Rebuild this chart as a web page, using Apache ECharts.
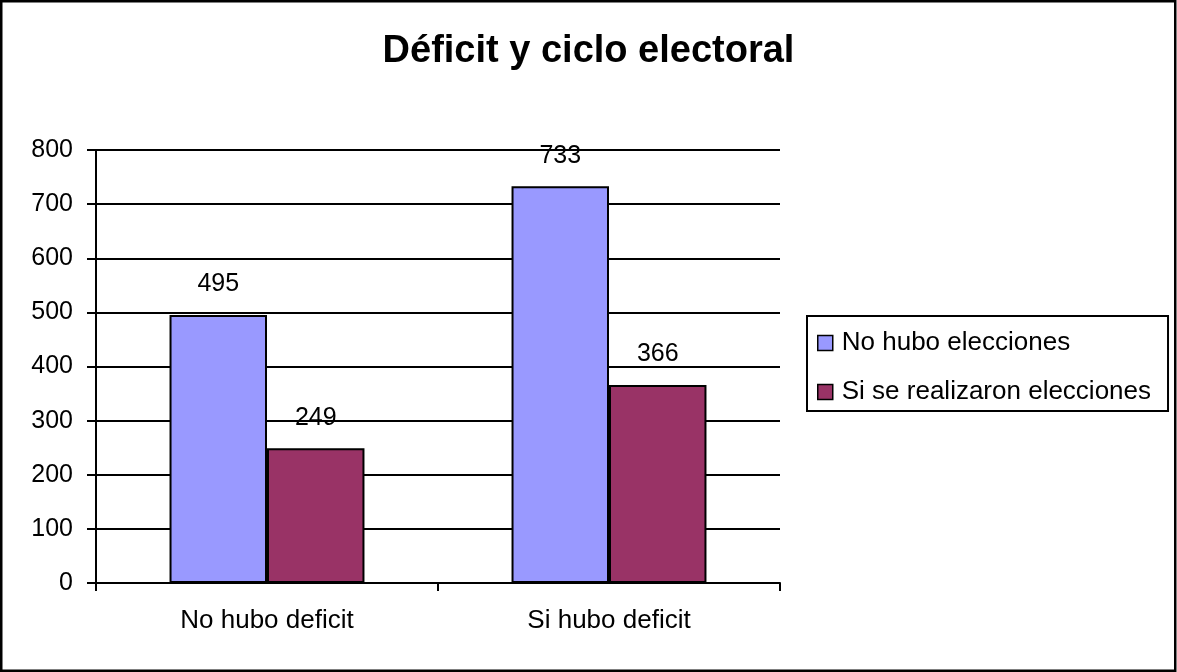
<!DOCTYPE html>
<html>
<head>
<meta charset="utf-8">
<script src="https://cdn.jsdelivr.net/npm/echarts@6/dist/echarts.min.js"></script>
<style>
html,body{margin:0;padding:0;background:#fff;}
#chart{width:1177px;height:672px;}
</style>
</head>
<body>
<div id="chart"></div>
<script>
const titleText = 'Déficit y ciclo electoral';
const categories = ['No hubo deficit', 'Si hubo deficit'];
const seriesNames = ['No hubo elecciones', 'Si se realizaron elecciones'];
const noElecciones = [495, 733];
const siElecciones = [249, 366];
const colors = ['#9999FF', '#993366'];

const FONT = '"Liberation Sans", Arial, sans-serif';
const chart = echarts.init(document.getElementById('chart'), null, {renderer: 'canvas'});

function mkSeries(name, data, color) {
  return {
    name: name,
    type: 'bar',
    data: data,
    barGap: '0%',
    barCategoryGap: '43%',
    itemStyle: {color: color, borderColor: '#000', borderWidth: 2},
    label: {
      show: true, position: 'top', distance: 18,
      color: '#000', fontSize: 25, fontFamily: FONT
    },
    emphasis: {disabled: true},
    z: 3
  };
}

chart.setOption({
  animation: false,
  backgroundColor: '#fff',
  title: {
    text: titleText,
    left: 'center',
    top: 28,
    textStyle: {fontSize: 38, fontWeight: 'bold', color: '#000', fontFamily: FONT}
  },
  legend: {
    orient: 'vertical',
    left: 807,
    top: 316,
    padding: [14, 17, 6, 10],
    itemGap: 23,
    itemWidth: 15,
    itemHeight: 15,
    icon: 'rect',
    borderColor: '#000',
    borderWidth: 2,
    borderRadius: 0,
    backgroundColor: '#fff',
    selectedMode: false,
    data: seriesNames,
    itemStyle: {borderColor: '#000', borderWidth: 1.5},
    textStyle: {fontSize: 26, color: '#000', fontFamily: FONT, lineHeight: 26, padding: [0, 0, 0, 4]}
  },
  grid: {left: 96, right: 397, top: 150, bottom: 89, containLabel: false},
  xAxis: {
    type: 'category',
    data: categories,
    axisLine: {show: true, lineStyle: {color: '#000', width: 2}},
    axisTick: {show: true, length: 8, lineStyle: {color: '#000', width: 2}},
    axisLabel: {margin: 25, fontSize: 26, color: '#000', fontFamily: FONT},
    splitLine: {show: false}
  },
  yAxis: {
    type: 'value',
    min: 0,
    max: 800,
    interval: 100,
    axisLine: {show: true, lineStyle: {color: '#000', width: 2}},
    axisTick: {show: true, length: 9, lineStyle: {color: '#000', width: 2}},
    axisLabel: {margin: 23, fontSize: 25, color: '#000', fontFamily: FONT},
    splitLine: {show: true, lineStyle: {color: '#000', width: 2}}
  },
  series: [
    mkSeries(seriesNames[0], noElecciones, colors[0]),
    mkSeries(seriesNames[1], siElecciones, colors[1])
  ],
  graphic: [{
    type: 'rect',
    silent: true,
    shape: {x: 1.25, y: 1.25, width: 1174, height: 669.5},
    style: {fill: 'none', stroke: '#000', lineWidth: 2.5},
    z: 100
  }]
});
</script>
</body>
</html>
